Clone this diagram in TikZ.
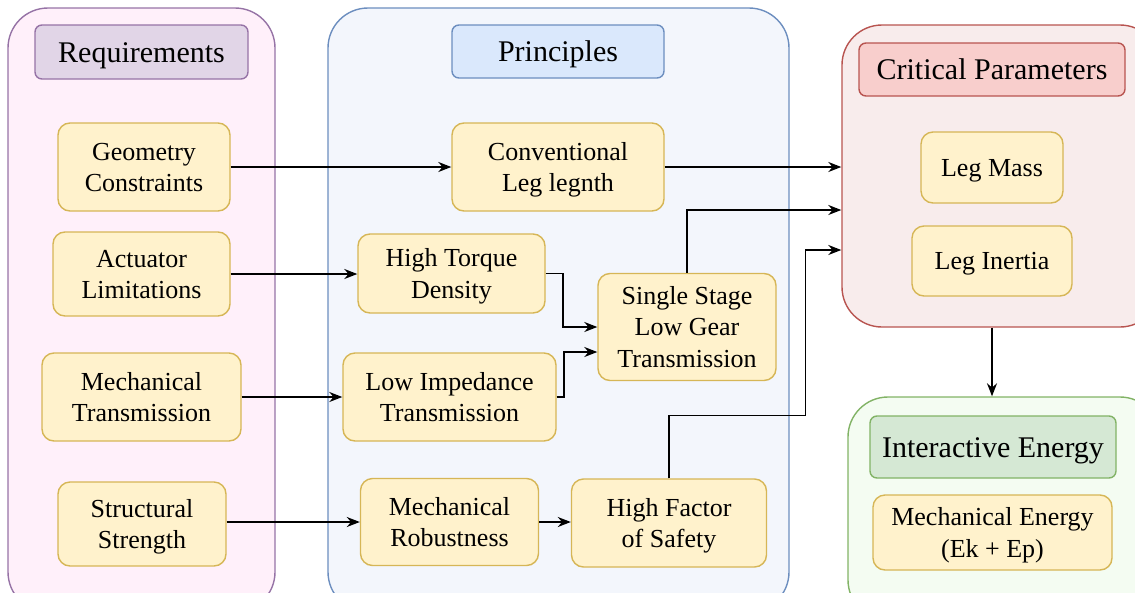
\documentclass[tikz,border=0pt]{standalone}
\usepackage{fontspec}
\setmainfont{Liberation Serif}
\usetikzlibrary{arrows.meta,calc}
\definecolor{itemfill}{HTML}{FFF2CC}
\definecolor{itemdraw}{HTML}{D6B656}
\definecolor{reqfill}{HTML}{FFF0FA}
\definecolor{reqdraw}{HTML}{9673A6}
\definecolor{reqhead}{HTML}{E1D5E7}
\definecolor{prinfill}{HTML}{F3F6FC}
\definecolor{prindraw}{HTML}{6C8EBF}
\definecolor{prinhead}{HTML}{DAE8FC}
\definecolor{critfill}{HTML}{F8ECEC}
\definecolor{critdraw}{HTML}{B85450}
\definecolor{crithead}{HTML}{F8CECC}
\definecolor{intfill}{HTML}{F4FCF2}
\definecolor{intdraw}{HTML}{82B366}
\definecolor{inthead}{HTML}{D5E8D4}
\tikzset{
  container/.style={rectangle, rounded corners=40pt, line width=1.4pt, inner sep=0pt},
  header/.style={rectangle, rounded corners=7pt, line width=1.4pt, inner sep=0pt, align=center, font=\fontsize{30}{34}\selectfont, text height=26.7pt, text depth=6.5pt},
  item/.style={rectangle, rounded corners=12pt, line width=1.4pt, draw=itemdraw, fill=itemfill, inner sep=0pt, align=center, font=\fontsize{26}{31.5}\selectfont, text depth=5.6pt, text height=23.2pt},
  twoline/.style={text height=54.7pt},
  threeline/.style={text height=86.2pt},
  arr/.style={line width=1.6pt, -{Stealth[length=13pt,width=10pt]}},
}
\begin{document}
\begin{tikzpicture}[x=1pt,y=1pt]
\useasboundingbox (0,0) rectangle (1135,-592);
\clip (0,0) rectangle (1135,-592);
% containers
\node[container, draw=reqdraw, fill=reqfill, minimum width=267, minimum height=604] (req) at (141.5,-310) {};
\node[container, draw=prindraw, fill=prinfill, minimum width=461, minimum height=604] (prin) at (558.5,-310) {};
\node[container, draw=critdraw, fill=critfill, minimum width=318, minimum height=302] (crit) at (1001,-176) {};
\node[container, draw=intdraw, fill=intfill, minimum width=312, minimum height=223] (inter) at (1004,-508.5) {};
% headers
\node[header, draw=reqdraw, fill=reqhead, minimum width=213, minimum height=54] (reqh) at (141.5,-52) {Requirements};
\node[header, draw=prindraw, fill=prinhead, minimum width=212, minimum height=53] (prinh) at (558,-51.5) {Principles};
\node[header, draw=critdraw, fill=crithead, minimum width=266, minimum height=53] (crith) at (992,-69.5) {Critical Parameters};
\node[header, draw=intdraw, fill=inthead, minimum width=246, minimum height=62] (interh) at (993,-447) {Interactive Energy};
% requirements
\node[item, twoline, minimum width=172, minimum height=88] (geo) at (144,-167) {Geometry\\Constraints};
\node[item, twoline, minimum width=177, minimum height=84] (act) at (141.5,-274) {Actuator\\Limitations};
\node[item, twoline, minimum width=199, minimum height=88] (mtr) at (141.5,-397) {Mechanical\\Transmission};
\node[item, twoline, minimum width=168, minimum height=84] (str) at (142,-524) {Structural\\Strength};
% principles
\node[item, twoline, minimum width=212, minimum height=88] (conv) at (558,-167) {Conventional\\Leg legnth};
\node[item, twoline, minimum width=187, minimum height=79] (htd) at (451.5,-273.5) {High Torque\\Density};
\node[item, twoline, minimum width=213, minimum height=88] (lit) at (449.5,-397) {Low Impedance\\Transmission};
\node[item, threeline, minimum width=178, minimum height=107] (ssl) at (687,-327) {Single Stage\\Low Gear\\Transmission};
\node[item, twoline, minimum width=178, minimum height=87] (mrob) at (449.5,-522) {Mechanical\\Robustness};
\node[item, twoline, minimum width=195, minimum height=88] (hfs) at (669,-523) {High Factor\\of Safety};
% critical
\node[item, minimum width=142, minimum height=71] (lm) at (992,-167.5) {Leg Mass};
\node[item, minimum width=160, minimum height=70] (li) at (992,-261) {Leg Inertia};
% interactive
\node[item, twoline, minimum width=239, minimum height=75] (mech) at (992.5,-532.5) {Mechanical Energy\\(Ek + Ep)};
% connectors
\draw[arr] (geo.east) -- (geo.east -| conv.west);
\draw[arr] (conv.east) -- (conv.east -| crit.west);
\draw[arr] (act.east) -- (act.east -| htd.west);
\draw[arr] (htd.east) -- ++(17,0) |- (ssl.west);
\draw[arr] (mtr.east) -- (mtr.east -| lit.west);
\draw[arr] (lit.east) -- ++(7,0) |- ($(ssl.west)+(0,-25)$);
\draw[arr] (ssl.north) |- ($(crit.west)+(0,-34)$);
\draw[arr] (hfs.north) -- ++(0,63) -| ($(crit.west)+(-36,-74)$) -- ($(crit.west)+(0,-74)$);
\draw[arr] ([yshift=2pt]str.east) -- ([yshift=2pt]str.east -| mrob.west);
\draw[arr] (mrob.east) -- (mrob.east -| hfs.west);
\draw[arr] (crith |- crit.south) -- (crith |- inter.north);
\end{tikzpicture}
\end{document}
